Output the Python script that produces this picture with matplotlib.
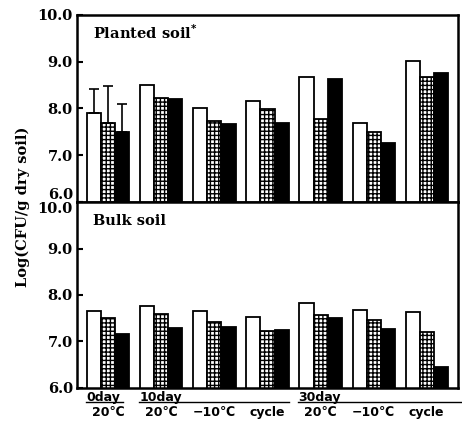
# Log(CFU/g dry soil) bar chart, planted soil vs bulk soil

import numpy as np
import matplotlib
matplotlib.use("Agg")
import matplotlib.pyplot as plt
from matplotlib.transforms import blended_transform_factory

plt.rcParams['font.family'] = ['DejaVu Serif']
plt.rcParams['font.weight'] = 'bold'
plt.rcParams['hatch.linewidth'] = 1.0

# Data
days = ["0day", "10day", "30day"]
temps = ["20\u2103", "20\u2103", "\u221210\u2103", "cycle", "20\u2103", "\u221210\u2103", "cycle"]

planted_white = [7.90, 8.50, 8.00, 8.17, 8.68, 7.70, 9.02]
planted_hatch = [7.69, 8.22, 7.74, 7.99, 7.78, 7.50, 8.68]
planted_black = [7.50, 8.20, 7.67, 7.69, 8.63, 7.26, 8.76]
planted_err_top = [8.42, 8.48, 8.10]  # error bars on the first group only

bulk_white = [7.66, 7.76, 7.65, 7.52, 7.82, 7.67, 7.63]
bulk_hatch = [7.50, 7.60, 7.42, 7.22, 7.56, 7.46, 7.21]
bulk_black = [7.16, 7.29, 7.31, 7.25, 7.50, 7.27, 6.45]

x = np.arange(len(temps))
w = 0.265

fig = plt.figure(figsize=(4.62, 4.22), dpi=100)
ax_top = fig.add_axes([0.1667, 0.5213, 0.8246, 0.4432])
ax_bot = fig.add_axes([0.1667, 0.0806, 0.8246, 0.4407])


def draw_panel(ax, white, hatch, black, title, ty):
    ax.bar(x - w, white, w, color="white", edgecolor="black", linewidth=1.3)
    ax.bar(x, hatch, w, color="white", edgecolor="black", linewidth=1.3, hatch="++++")
    ax.bar(x + w, black, w, color="black", edgecolor="black", linewidth=1.3)
    ax.set_ylim(6, 10)
    ax.set_xlim(-0.59, 6.59)
    ax.set_xticks([])
    for s in ax.spines.values():
        s.set_linewidth(1.8)
    ax.tick_params(axis='y', direction='in', length=4, width=1.5, labelsize=10.5, pad=3)
    ax.text(0.042, ty, title, transform=ax.transAxes, fontsize=10.5,
            fontweight='bold', va='center', ha='left')


draw_panel(ax_top, planted_white, planted_hatch, planted_black,
           "Planted soil$^{\\mathbf{*}}$", 0.905)
draw_panel(ax_bot, bulk_white, bulk_hatch, bulk_black, "Bulk soil", 0.9)

# Error bars (upward only) for first group of planted soil
tops = [planted_white[0], planted_hatch[0], planted_black[0]]
for i, (t, e) in enumerate(zip(tops, planted_err_top)):
    ax_top.errorbar(x[0] + (i - 1) * w, t, yerr=[[0], [e - t]], color="black",
                    capsize=3.5, elinewidth=1.2, capthick=1.2, fmt='none')

# y tick labels (the two at the shared border drawn by hand)
ax_top.set_yticks([6, 7, 8, 9, 10])
ax_top.set_yticklabels(["", "7.0", "8.0", "9.0", "10.0"])
ax_bot.set_yticks([6, 7, 8, 9, 10])
ax_bot.set_yticklabels(["6.0", "7.0", "8.0", "9.0", ""])
tr_top = blended_transform_factory(ax_top.transAxes, ax_top.transData)
tr_bot = blended_transform_factory(ax_bot.transAxes, ax_bot.transData)
ax_top.text(-0.011, 6.14, "6.0", transform=tr_top, ha='right', va='center', fontsize=10.5)
ax_bot.text(-0.011, 9.85, "10.0", transform=tr_bot, ha='right', va='center', fontsize=10.5)

fig.text(0.05, 0.51, "Log(CFU/g dry soil)", rotation=90, ha='center', va='center',
         fontsize=10.5, fontweight='bold')

# x labels
trx = blended_transform_factory(ax_bot.transData, ax_bot.transAxes)
xfont = dict(fontsize=9, fontweight='bold', family=['DejaVu Sans'])
for xi, t in zip(x, temps):
    ax_bot.text(xi, -0.13, t, transform=trx, ha='center', va='center', clip_on=False, **xfont)

day_groups = [(0, 0, 0), (1, 1, 3), (2, 4, 6)]
for di, start, end in day_groups:
    left = start - 1.5 * w - 0.02
    right = end + 1.5 * w
    if di == 2:
        right = 6.65
    if di == 0:
        right = start + 0.27
    ax_bot.text(left, -0.05, days[di], transform=trx, ha='left', va='center',
                clip_on=False, **xfont)
    ax_bot.plot([left, right], [-0.078, -0.078], transform=trx, color="black",
                linewidth=1.0, clip_on=False)

plt.savefig("out.png", dpi=100)
plt.close()
